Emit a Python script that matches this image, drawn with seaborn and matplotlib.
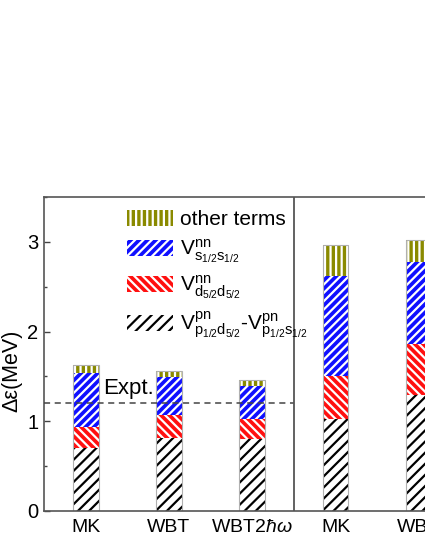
import numpy as np
import matplotlib
matplotlib.use("Agg")
import matplotlib.pyplot as plt
import matplotlib.patches as mpatches
from matplotlib.ticker import MultipleLocator
import seaborn as sns

sns.set_style("ticks")
plt.rcParams["font.family"] = ["Liberation Sans", "DejaVu Sans"]
plt.rcParams["mathtext.fontset"] = "custom"
plt.rcParams["mathtext.rm"] = "Liberation Sans"
plt.rcParams["mathtext.it"] = "Liberation Sans:italic"
plt.rcParams["mathtext.bf"] = "Liberation Sans:bold"
plt.rcParams["hatch.linewidth"] = 1.6
plt.rcParams["text.color"] = "black"
plt.rcParams["axes.labelcolor"] = "black"
plt.rcParams["xtick.color"] = "black"
plt.rcParams["ytick.color"] = "black"

# data (MeV)
labels = ["MK", "WBT", r"WBT2$\hbar\omega$", "MK", "WBT"]
pn_term = [0.70, 0.81, 0.80, 1.02, 1.29]      # V^pn_{p1/2 d5/2} - V^pn_{p1/2 s1/2}
dd_term = [0.24, 0.26, 0.22, 0.48, 0.57]      # V^nn_{d5/2 d5/2}
ss_term = [0.60, 0.42, 0.37, 1.12, 0.91]      # V^nn_{s1/2 s1/2}
other_term = [0.09, 0.07, 0.07, 0.34, 0.25]   # other terms
expt = 1.2

positions = list(range(len(labels)))
total = np.array(pn_term) + dd_term + ss_term + other_term
layers = [
    # (cumulative top, face, hatch colour, hatch)
    (total, "#8a8a00", "white", "|||"),
    (np.array(pn_term) + dd_term + ss_term, "#1010ff", "white", "////"),
    (np.array(pn_term) + dd_term, "#ff1010", "white", "\\\\\\\\"),
    (np.array(pn_term), "white", "black", "///"),
]

fig = plt.figure(figsize=(4.25, 5.5), dpi=100)
ax = fig.add_axes([44 / 425, 39 / 550, 416.5 / 425, 314 / 550])

for top, face, hcol, hatch in layers:
    n0 = len(ax.patches)
    sns.barplot(x=positions, y=top, ax=ax, width=0.31, color=face, saturation=1)
    for p in ax.patches[n0:]:
        p.set_facecolor(face)
        p.set_edgecolor(hcol)
        p.set_hatch(hatch)
        p.set_linewidth(0)

# thin outline round each stack
sns.barplot(x=positions, y=total, ax=ax, width=0.31, fill=False,
            edgecolor="#b0b0b0", linewidth=0.8)

ax.set_xlim(-0.5, 4.5)
ax.set_ylim(0, 3.5)
ax.set_xticks(positions)
ax.set_xticklabels(labels, fontsize=14)
ax.tick_params(axis="x", length=0, pad=6)
ax.yaxis.set_major_locator(MultipleLocator(1))
ax.yaxis.set_minor_locator(MultipleLocator(0.5))
ax.tick_params(axis="y", which="major", direction="in", length=4, width=1, labelsize=14.5, pad=4, color="#444444")
ax.tick_params(axis="y", which="minor", direction="in", length=2.5, width=1, color="#444444")
for s in ax.spines.values():
    s.set_color("#555555")
    s.set_linewidth(1.2)

ax.set_ylabel("\u0394\u03b5(MeV)", fontsize=15.5)
ax.yaxis.set_label_coords(-0.053, 0.446)

# expt line and divider
ax.hlines(expt, -0.5, 2.5, colors="#444444", linestyles=(0, (4, 3)), linewidth=1.1, zorder=5)
ax.vlines(2.5, 0, 3.5, colors="#555555", linewidth=1.3, zorder=5)
ax.text(0.21, 1.30, "Expt.", fontsize=16, va="baseline", ha="left")

handles = [
    mpatches.Patch(facecolor="#8a8a00", edgecolor="white", hatch="|||", linewidth=0),
    mpatches.Patch(facecolor="#1010ff", edgecolor="white", hatch="////", linewidth=0),
    mpatches.Patch(facecolor="#ff1010", edgecolor="white", hatch="\\\\\\\\", linewidth=0),
    mpatches.Patch(facecolor="white", edgecolor="black", hatch="///", linewidth=0),
]
leg_labels = [
    "other terms",
    r"$\mathrm{V}^{\mathrm{nn}}_{\mathrm{s}_{1/2}\mathrm{s}_{1/2}}$",
    r"$\mathrm{V}^{\mathrm{nn}}_{\mathrm{d}_{5/2}\mathrm{d}_{5/2}}$",
    r"$\mathrm{V}^{\mathrm{pn}}_{\mathrm{p}_{1/2}\mathrm{d}_{5/2}}$-"
    r"$\mathrm{V}^{\mathrm{pn}}_{\mathrm{p}_{1/2}\mathrm{s}_{1/2}}$",
]
ax.legend(handles, leg_labels, loc="upper left", bbox_to_anchor=(0.17, 1.0),
          frameon=False, fontsize=15, handlelength=2.2, handleheight=0.85,
          handletextpad=0.35, labelspacing=0.4, borderaxespad=0.2)

fig.savefig("out.png", dpi=100)
